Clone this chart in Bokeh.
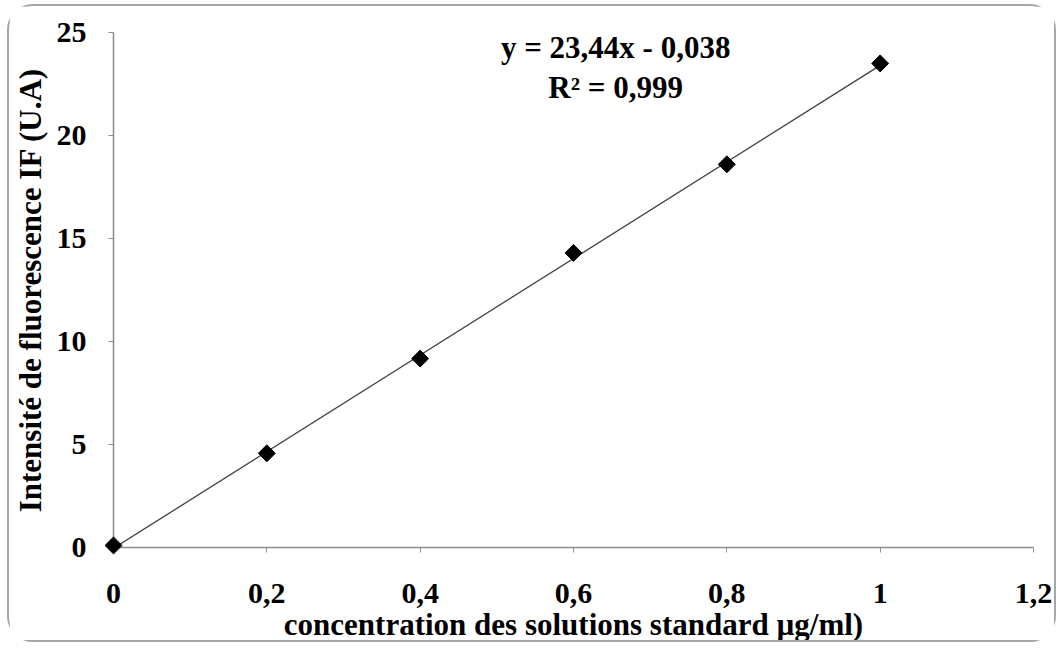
import math
from bokeh.plotting import figure
from bokeh.models import Range1d, Label, FixedTicker, CustomJSTickFormatter
from bokeh.embed import file_html
from bokeh.resources import INLINE

# data
conc = [0, 0.2, 0.4, 0.6, 0.8, 1.0]
intensity = [0.1, 4.57, 9.17, 14.3, 18.6, 23.5]
slope, intercept = 23.44, -0.038
fit_x = [0, 1.0]
fit_y = [slope * v + intercept for v in fit_x]
x_ticks = [0, 0.2, 0.4, 0.6, 0.8, 1.0, 1.2]
y_ticks = [0, 5, 10, 15, 20, 25]
eq_text = "y = 23,44x - 0,038"
r2_text = "R² = 0,999"
x_label = "concentration des solutions standard µg/ml)"
y_label = "Intensité de fluorescence IF (U.A)"

FONT = "Liberation Serif"

p = figure(width=1049, height=638, output_backend="svg", toolbar_location=None,
           x_range=Range1d(0, 1.2), y_range=Range1d(0, 25),
           min_border_left=104, min_border_right=25, min_border_top=26, min_border_bottom=97)
p.styles = {"border": "2px solid #a6a6a6", "border-radius": "26px",
            "margin-left": "7px", "margin-top": "4px"}
p.outline_line_color = None
p.xgrid.visible = False
p.ygrid.visible = False
p.background_fill_color = "white"
p.border_fill_color = "white"

p.line(fit_x, fit_y, line_color="#404040", line_width=1.3)
pts = p.scatter(conc, intensity, marker="square", angle=math.pi / 4, size=12,
                fill_color="black", line_color="black")
pts.level = "overlay"

for ax in (p.xaxis, p.yaxis):
    ax.axis_line_color = "#8c8c8c"
    ax.axis_line_width = 1.5
    ax.major_tick_line_color = "#8c8c8c"
    ax.major_tick_in = 0
    ax.major_tick_out = 5
    ax.minor_tick_line_color = None
    ax.major_label_text_font = FONT
    ax.major_label_text_font_style = "bold"
    ax.major_label_text_font_size = "30px"
    ax.major_label_text_color = "black"
    ax.axis_label_text_font = FONT
    ax.axis_label_text_font_style = "bold"
    ax.axis_label_text_font_size = "31px"
    ax.axis_label_text_color = "black"

p.xaxis.ticker = FixedTicker(ticks=x_ticks)
p.yaxis.ticker = FixedTicker(ticks=y_ticks)
fmt = CustomJSTickFormatter(code="return (Math.round(tick*10)/10).toString().replace('.', ',');")
p.xaxis.formatter = fmt
p.xaxis.major_label_standoff = 31
p.yaxis.major_label_standoff = 22
p.xaxis.axis_label = x_label
p.yaxis.axis_label = y_label
p.xaxis.axis_label_standoff = 1
p.yaxis.axis_label_standoff = 6

p.add_layout(Label(x=0.655, y=24.25, text=eq_text, text_align="center", text_baseline="middle",
                   text_font=FONT, text_font_style="bold", text_font_size="31px", text_color="black"))
p.add_layout(Label(x=0.655, y=22.35, text=r2_text, text_align="center", text_baseline="middle",
                   text_font=FONT, text_font_style="bold", text_font_size="31px", text_color="black"))

open("out.html", "w").write(file_html(p, INLINE))
